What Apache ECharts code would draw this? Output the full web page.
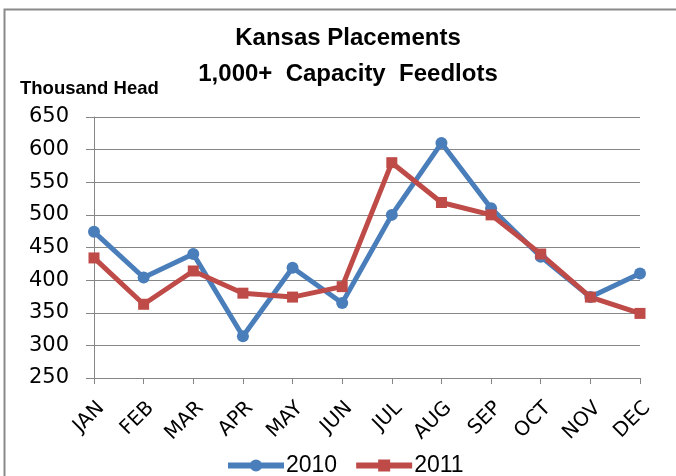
<!DOCTYPE html>
<html>
<head>
<meta charset="utf-8">
<script src="https://cdn.jsdelivr.net/npm/echarts@6/dist/echarts.min.js"></script>
<style>html,body{margin:0;padding:0;background:#fff}#c{width:676px;height:476px}</style>
</head>
<body>
<div id="c"></div>
<script>
const months = ['JAN','FEB','MAR','APR','MAY','JUN','JUL','AUG','SEP','OCT','NOV','DEC'];
const s2010 = [474, 404, 440, 314, 419, 365, 500, 610, 510, 436, 374, 410];
const s2011 = [434, 363, 414, 380, 374, 390, 580, 519, 500, 440, 374, 349];
const yTicks = [250, 300, 350, 400, 450, 500, 550, 600, 650];

const chart = echarts.init(document.getElementById('c'));
const gray = '#868686';
chart.setOption({
  animation: false,
  backgroundColor: '#fff',
  graphic: [{
    type: 'rect', silent: true, z: -1,
    shape: {x: 4.5, y: 9.5, width: 700, height: 500},
    style: {fill: 'none', stroke: '#8a8a8a', lineWidth: 2}
  }],
  title: [{
    text: 'Kansas Placements\n1,000+  Capacity  Feedlots',
    left: 348, top: 20, padding: 0, textAlign: 'center',
    textStyle: {fontFamily: 'Liberation Sans', fontWeight: 'bold', fontSize: 24, lineHeight: 36, color: '#000'}
  }, {
    text: 'Thousand Head',
    left: 20, top: 79, padding: 0,
    textStyle: {fontFamily: 'Liberation Sans', fontWeight: 'bold', fontSize: 18.5, color: '#000'}
  }],
  legend: {
    left: 225, top: 454, padding: 0,
    itemWidth: 56, itemHeight: 15, itemGap: 16,
    lineStyle: {width: 6},
    textStyle: {fontFamily: 'Liberation Sans', fontSize: 23, color: '#000', padding: [0,0,0,-3]},
    data: ['2010', '2011']
  },
  grid: {left: 94, right: 36, top: 117, bottom: 98},
  xAxis: {
    type: 'category', data: months, boundaryGap: false,
    axisLine: {lineStyle: {color: gray, width: 1}},
    axisTick: {show: true, length: 6, alignWithLabel: true, lineStyle: {color: gray}},
    axisLabel: {rotate: 45, margin: 20, verticalAlign: 'top', align: 'right', fontFamily: 'DejaVu Sans', fontSize: 20, color: '#000', interval: 0}
  },
  yAxis: {
    type: 'value', min: yTicks[0], max: yTicks[yTicks.length-1], interval: 50,
    axisLine: {show: true, lineStyle: {color: gray, width: 1}},
    axisTick: {show: true, length: 8, lineStyle: {color: gray}},
    splitLine: {show: true, lineStyle: {color: gray, width: 1}},
    axisLabel: {margin: 25, fontFamily: 'DejaVu Sans', fontSize: 21, color: '#000'}
  },
  series: [{
    name: '2010', type: 'line', data: s2010,
    symbol: 'circle', symbolSize: 12,
    lineStyle: {color: '#4A7EBB', width: 5},
    itemStyle: {color: '#4A7EBB'}
  }, {
    name: '2011', type: 'line', data: s2011,
    symbol: 'rect', symbolSize: 11,
    lineStyle: {color: '#BE4B48', width: 5},
    itemStyle: {color: '#BE4B48'}
  }]
});
</script>
</body>
</html>
